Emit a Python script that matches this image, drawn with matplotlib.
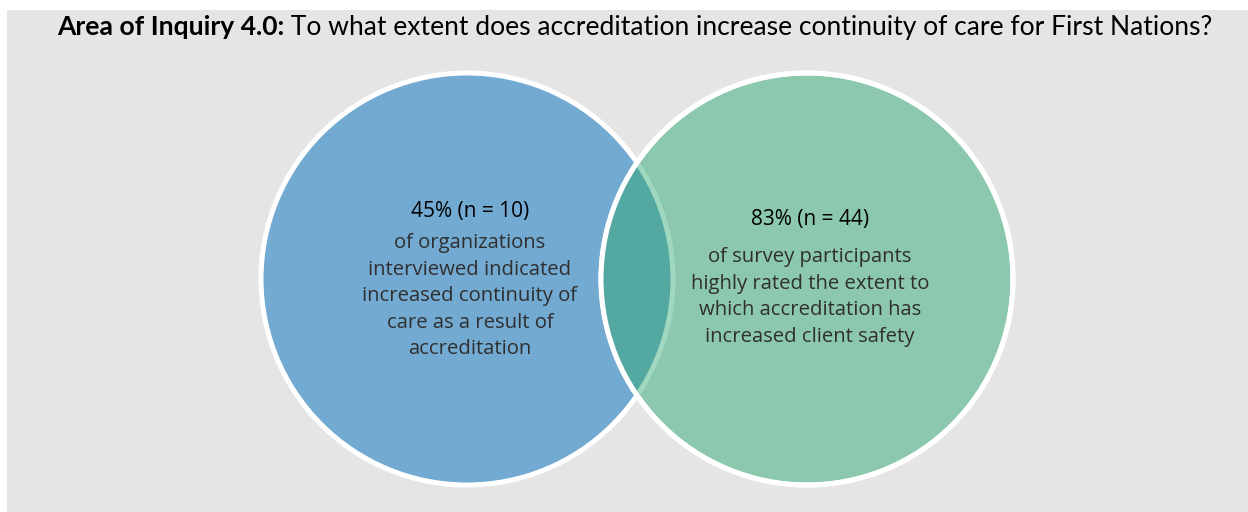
import matplotlib.pyplot as plt
from matplotlib.patches import Circle, Rectangle

# données du diagramme
titre_gras = "Area of Inquiry 4.0:"
titre_texte = " To what extent does accreditation increase continuity of care for First Nations?"
pourcentages = [45, 83]
effectifs = [10, 44]
descriptions = [
    ["of organizations", "interviewed indicated", "increased continuity of",
     "care as a result of", "accreditation"],
    ["of survey participants", "highly rated the extent to",
     "which accreditation has", "increased client safety"],
]

# mise en page (pixels)
W, H = 1248, 512
centres = [(467, 279), (807, 279)]
rayon = 206
y_titre_pct = [212, 220]
y_premiere_ligne = [243, 257]
interligne = 26.6

bleu = '#73aad2'
vert = '#8cc8ad'
lentille = '#53a9a1'
bord_lentille = '#a0d7bf'
fond = '#e5e5e5'

fig = plt.figure(figsize=(W / 100, H / 100), dpi=100)
fig.patch.set_facecolor('white')
ax = fig.add_axes([0, 0, 1, 1])
ax.set_xlim(0, W)
ax.set_ylim(H, 0)
ax.set_aspect('equal')
ax.axis('off')

ax.add_patch(Rectangle((7, 10), W - 7, H - 10, facecolor=fond, edgecolor='none', zorder=0))

c_gauche = Circle(centres[0], rayon, facecolor=bleu, edgecolor='white', lw=3.6, zorder=1)
c_droite = Circle(centres[1], rayon, facecolor=vert, edgecolor='white', lw=3.6, zorder=2)
ax.add_patch(c_gauche)
ax.add_patch(c_droite)

# intersection des deux cercles
zone = Circle(centres[0], rayon, facecolor=lentille, edgecolor=bord_lentille, lw=3.6, zorder=3)
ax.add_patch(zone)
zone.set_clip_path(c_droite)
ax.add_patch(Circle(centres[1], rayon, facecolor='none', edgecolor='white', lw=3.6, zorder=4))

# titre en deux morceaux
fig.canvas.draw()
rend = fig.canvas.get_renderer()
t1 = ax.text(0, 27, titre_gras, fontsize=16, fontweight='bold', family='Lato',
             color='black', va='center', ha='left')
t2 = ax.text(0, 27, titre_texte, fontsize=16, family='Lato', color='black',
             va='center', ha='left')
w1 = t1.get_window_extent(rend).width
w2 = t2.get_window_extent(rend).width
echelle = 1160 / (w1 + w2)
t1.set_fontsize(16 * echelle)
t2.set_fontsize(16 * echelle)
w1 = t1.get_window_extent(rend).width
w2 = t2.get_window_extent(rend).width
x0 = 635 - (w1 + w2) / 2
t1.set_x(x0)
t2.set_x(x0 + w1)

for i in range(2):
    cx = centres[i][0] + 3
    ax.text(cx, y_titre_pct[i], f"{pourcentages[i]}% (n = {effectifs[i]})", fontsize=15,
            family='Open Sans', color='black', ha='center', va='center', zorder=5)
    for j, ligne in enumerate(descriptions[i]):
        ax.text(cx, y_premiere_ligne[i] + j * interligne, ligne, fontsize=14.6,
                family='Open Sans', color='#2f2f2f', ha='center', va='center', zorder=5)

fig.savefig('out.png', dpi=100, facecolor=fig.get_facecolor())
